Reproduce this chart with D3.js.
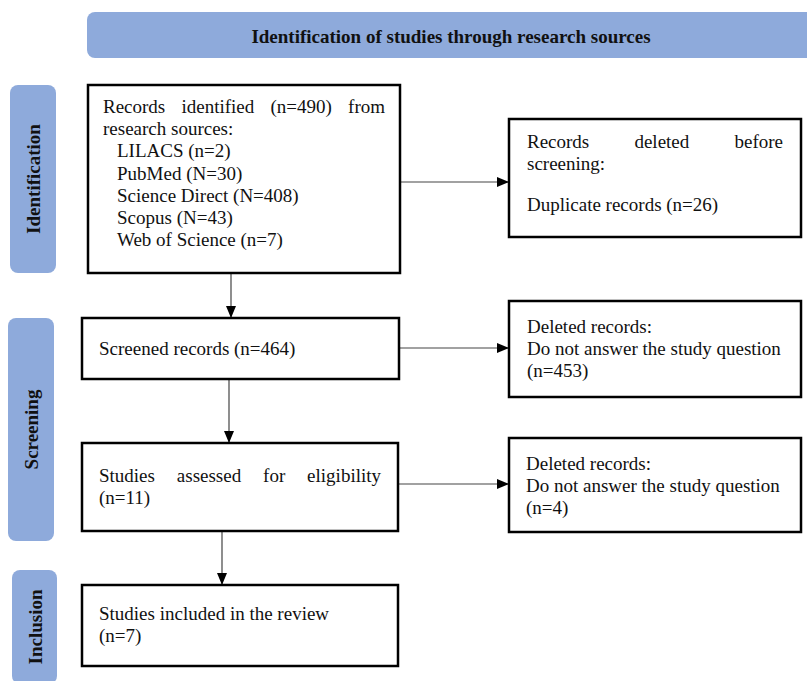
<!DOCTYPE html>
<html>
<head>
<meta charset="utf-8">
<script src="https://cdn.jsdelivr.net/npm/d3@7"></script>
<style>
  body { margin: 0; background: #fff; }
  svg { display: block; }
  text { font-family: "Liberation Serif", "Times New Roman", serif; fill: #111; }
</style>
</head>
<body>
<svg width="807" height="681"></svg>
<script>
// Chart content
const title = "Identification of studies through research sources";
const stages = ["Identification", "Screening", "Inclusion"];
const sources = ["LILACS (n=2)", "PubMed (N=30)", "Science Direct (N=408)", "Scopus (N=43)", "Web of Science (n=7)"];
const recordsIdentified = 490;
const duplicates = 26;
const screened = 464;
const excludedScreening = 453;
const assessed = 11;
const excludedEligibility = 4;
const included = 7;

// Box texts; "j" = justified line, "i" = indented, "gap" = extra space before line
const mainBoxes = [
  { id: "identified", lines: [
      { t: `Records identified (n=${recordsIdentified}) from`, j: true },
      { t: "research sources:" }
    ].concat(sources.map(s => ({ t: s, i: true }))) },
  { id: "screened", lines: [{ t: `Screened records (n=${screened})` }] },
  { id: "assessed", lines: [
      { t: "Studies assessed for eligibility", j: true },
      { t: `(n=${assessed})` }] },
  { id: "included", lines: [
      { t: "Studies included in the review" },
      { t: `(n=${included})` }] }
];
const sideBoxes = [
  { id: "duplicates", lines: [
      { t: "Records deleted before", j: true },
      { t: "screening:" },
      { t: `Duplicate records (n=${duplicates})`, gap: true }] },
  { id: "excl1", lines: [
      { t: "Deleted records:" },
      { t: "Do not answer the study question" },
      { t: `(n=${excludedScreening})` }] },
  { id: "excl2", lines: [
      { t: "Deleted records:" },
      { t: "Do not answer the study question" },
      { t: `(n=${excludedEligibility})` }] }
];

// Layout (pixels)
const layout = {
  identified: { x: 88, y: 85, w: 312, h: 188, tx: 103, ty: 113 },
  screened:   { x: 82, y: 318, w: 317, h: 61, tx: 99, ty: 355 },
  assessed:   { x: 82, y: 443, w: 316, h: 88, tx: 99, ty: 482 },
  included:   { x: 82, y: 585, w: 316, h: 81, tx: 99, ty: 620 },
  duplicates: { x: 509, y: 119, w: 292, h: 118, tx: 527, ty: 148 },
  excl1:      { x: 509, y: 301, w: 292, h: 96, tx: 527, ty: 333 },
  excl2:      { x: 509, y: 438, w: 292, h: 94, tx: 526, ty: 470 }
};
const stageLayout = [
  { x: 10, y: 85, w: 46, h: 188 },
  { x: 8, y: 318, w: 46, h: 223 },
  { x: 12, y: 570, w: 45, h: 114 }
];
const lineH = 22.2;
const labelFill = "#8eaadb";

const svg = d3.select("svg");

svg.append("defs").append("marker")
    .attr("id", "arrow")
    .attr("viewBox", "0 0 12 10")
    .attr("refX", 12).attr("refY", 5)
    .attr("markerWidth", 12).attr("markerHeight", 10)
    .attr("markerUnits", "userSpaceOnUse")
    .attr("orient", "auto")
  .append("path")
    .attr("d", "M0,0 L12,5 L0,10 Z")
    .attr("fill", "#000");

// Title banner
svg.append("rect")
    .attr("x", 87).attr("y", 12).attr("width", 740).attr("height", 46)
    .attr("rx", 8).attr("fill", labelFill);
svg.append("text")
    .attr("x", 451).attr("y", 43)
    .attr("text-anchor", "middle")
    .attr("font-size", 19).attr("font-weight", "bold")
    .text(title);

// Stage labels
const stageG = svg.selectAll(".stage")
    .data(stages)
    .enter().append("g")
    .attr("class", "stage");
stageG.append("rect")
    .attr("x", (d, i) => stageLayout[i].x)
    .attr("y", (d, i) => stageLayout[i].y)
    .attr("width", (d, i) => stageLayout[i].w)
    .attr("height", (d, i) => stageLayout[i].h)
    .attr("rx", 8)
    .attr("fill", labelFill);
stageG.append("text")
    .attr("transform", (d, i) => {
        const s = stageLayout[i];
        return `translate(${s.x + s.w / 2 + 7},${s.y + s.h / 2}) rotate(-90)`;
    })
    .attr("text-anchor", "middle")
    .attr("font-size", 19).attr("font-weight", "bold")
    .text(d => d);

// Connectors
const arrows = [
  [[231, 273], [231, 318]],
  [[229, 379], [229, 443]],
  [[222, 531], [222, 585]],
  [[400, 182], [509, 182]],
  [[398, 348], [509, 348]],
  [[398, 484], [509, 484]]
];
svg.selectAll(".arrow")
    .data(arrows)
    .enter().append("path")
    .attr("class", "arrow")
    .attr("d", d => d3.line()(d))
    .attr("stroke", "#444")
    .attr("stroke-width", 1.2)
    .attr("fill", "none")
    .attr("marker-end", "url(#arrow)");

// Boxes
function drawBox(box) {
    const L = layout[box.id];
    svg.append("rect")
        .attr("x", L.x).attr("y", L.y)
        .attr("width", L.w).attr("height", L.h)
        .attr("fill", "#fff")
        .attr("stroke", "#000")
        .attr("stroke-width", 2.5);
    const right = L.x + L.w - (L.tx - L.x);
    let y = L.ty;
    box.lines.forEach((ln, k) => {
        if (k > 0) y += ln.gap ? lineH * 1.85 : lineH;
        const x0 = L.tx + (ln.i ? 14 : 0);
        if (ln.j) {
            const words = ln.t.split(" ");
            const nodes = words.map(w => svg.append("text")
                .attr("y", y).attr("font-size", 19).text(w));
            const widths = nodes.map(n => n.node().getComputedTextLength());
            const gap = (right - x0 - d3.sum(widths)) / (words.length - 1);
            let x = x0;
            nodes.forEach((n, i) => { n.attr("x", x); x += widths[i] + gap; });
        } else {
            svg.append("text")
                .attr("x", x0).attr("y", y)
                .attr("font-size", 19)
                .text(ln.t);
        }
    });
}
mainBoxes.forEach(drawBox);
sideBoxes.forEach(drawBox);
</script>
</body>
</html>
